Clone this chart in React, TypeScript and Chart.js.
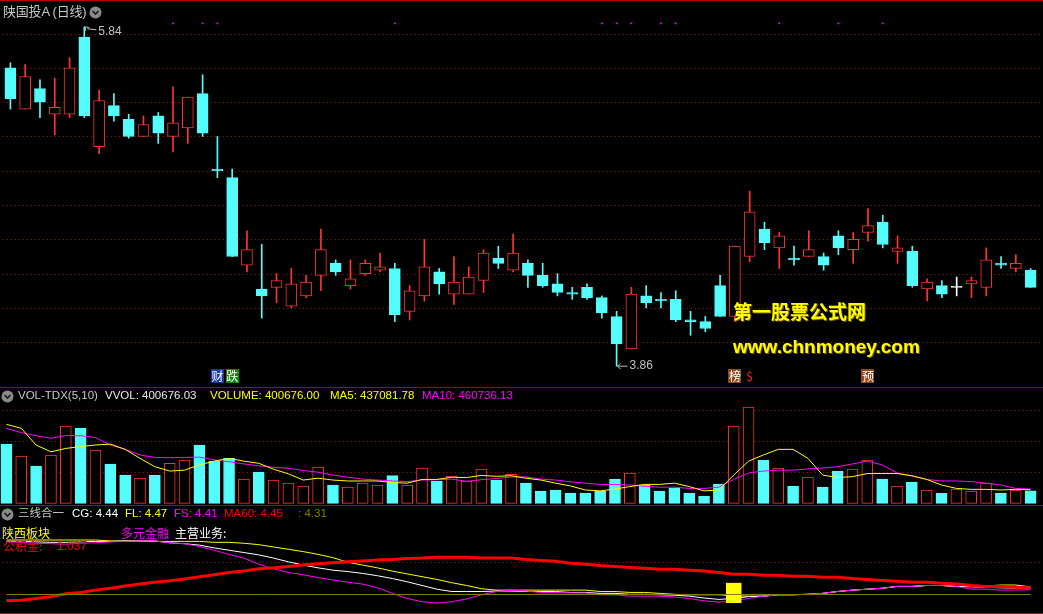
import React, { useEffect, useRef } from "react";
import { Chart, registerables } from "chart.js";

Chart.register(...registerables);

// ---------------- data ----------------
const open = [5.60,5.36,5.48,5.33,5.33,5.78,5.14,5.38,5.30,5.20, 5.32,5.20,5.25,5.45,5.01,4.96,4.45,4.31,4.32,4.21, 4.27,4.39,4.46,4.33,4.40,4.42,4.43,4.18,4.27,4.41, 4.28,4.28,4.36,4.49,4.42,4.46,4.39,4.34,4.29,4.32, 4.26,4.15,3.96,4.27,4.25,4.25,4.13,4.12,4.33,4.15, 4.50,4.66,4.55,4.49,4.50,4.50,4.62,4.54,4.64,4.70, 4.53,4.53,4.31,4.33,4.32,4.34,4.32,4.46,4.43,4.42];
const high = [5.63,5.62,5.53,5.54,5.66,5.84,5.47,5.45,5.33,5.32, 5.34,5.49,5.43,5.56,5.20,5.01,4.65,4.57,4.40,4.43, 4.39,4.66,4.48,4.48,4.48,4.52,4.46,4.33,4.60,4.43, 4.50,4.44,4.54,4.56,4.63,4.48,4.46,4.40,4.32,4.34, 4.27,4.18,4.32,4.33,4.29,4.30,4.18,4.15,4.39,4.56, 4.88,4.70,4.64,4.56,4.65,4.52,4.65,4.64,4.78,4.74, 4.62,4.56,4.37,4.36,4.38,4.38,4.55,4.50,4.51,4.43];
const low = [5.36,5.36,5.31,5.21,5.31,5.31,5.10,5.29,5.19,5.20, 5.16,5.11,5.16,5.20,4.96,4.50,4.41,4.14,4.23,4.20, 4.26,4.30,4.39,4.31,4.39,4.41,4.12,4.13,4.24,4.28, 4.22,4.28,4.29,4.43,4.41,4.32,4.32,4.27,4.25,4.25, 4.14,3.86,3.96,4.20,4.20,4.12,4.04,4.06,4.15,4.12, 4.47,4.54,4.43,4.45,4.50,4.42,4.51,4.46,4.59,4.55, 4.46,4.32,4.24,4.26,4.27,4.26,4.27,4.43,4.41,4.32];
const close = [5.42,5.55,5.40,5.37,5.60,5.32,5.41,5.32,5.20,5.27, 5.22,5.28,5.43,5.22,5.00,4.50,4.54,4.27,4.36,4.34, 4.35,4.54,4.41,4.37,4.46,4.44,4.16,4.30,4.44,4.34, 4.35,4.38,4.52,4.46,4.52,4.39,4.33,4.29,4.28,4.26, 4.17,3.99,4.28,4.23,4.24,4.13,4.12,4.08,4.15,4.56, 4.76,4.58,4.62,4.48,4.54,4.45,4.55,4.60,4.68,4.57, 4.55,4.33,4.35,4.28,4.32,4.36,4.48,4.45,4.46,4.32];

const volume = [1913000,1526000,1203000,1558000,2494000,2429000,1719000,1268000,913000,816000, 913000,1290000,1397000,1881000,1365000,1450000,784000,1010000,752000,655000, 558000,1171000,590000,526000,655000,590000,891000,590000,1139000,719000, 881000,719000,1106000,752000,935000,655000,397000,429000,332000,332000, 397000,784000,977000,590000,397000,494000,332000,235000,623000,2494000, 3106000,1397000,1139000,558000,849000,526000,1042000,1106000,1397000,784000, 558000,687000,429000,332000,461000,397000,655000,332000,429000,400676];
const volMa5 = [2548000,2420000,1880000,1660000,1770000,1830000,1880000,1910000,1740000,1450000, 1180000,1040000,1070000,1240000,1360000,1450000,1360000,1290000,1100000,950000, 750000,810000,750000,720000,720000,720000,670000,650000,770000,770000, 840000,830000,900000,870000,890000,810000,750000,650000,560000,430000, 400000,460000,540000,610000,610000,650000,540000,400000,430000,910000, 1360000,1560000,1740000,1740000,1450000,910000,830000,860000,960000,960000, 960000,890000,770000,590000,480000,450000,450000,430000,450000,437082];
const volMa10 = [2419000,2280000,2180000,2100000,2190000,2180000,2120000,1880000,1740000,1560000, 1480000,1470000,1480000,1490000,1400000,1340000,1270000,1210000,1160000,1130000, 1060000,1000000,910000,840000,780000,750000,720000,700000,750000,760000, 780000,710000,760000,800000,850000,850000,780000,750000,690000,650000, 610000,610000,590000,550000,520000,520000,480000,480000,520000,770000, 980000,1040000,1070000,1070000,1110000,1140000,1180000,1270000,1360000,1240000, 980000,880000,770000,720000,720000,700000,650000,590000,480000,460736];

const lineFL = [5.48,5.48,5.48,5.48,5.48,5.48,5.48,5.46,5.46,5.46, 5.45,5.45,5.45,5.45,5.43,5.43,5.41,5.38,5.33,5.28, 5.23,5.17,5.10,5.00,4.94,4.88,4.81,4.75,4.69,4.63, 4.56,4.50,4.43,4.40,4.40,4.40,4.40,4.40,4.40,4.40, 4.37,4.37,4.35,4.35,4.33,4.31,4.30,4.30,4.30,4.28, 4.27,4.27,4.30,4.30,4.31,4.33,4.37,4.40,4.42,4.44, 4.48,4.48,4.50,4.50,4.48,4.48,4.49,4.51,4.51,4.47];
const lineCG = [5.45,5.45,5.44,5.43,5.43,5.44,5.45,5.45,5.46,5.46, 5.46,5.42,5.40,5.37,5.31,5.26,5.21,5.16,5.09,5.01, 4.94,4.88,4.83,4.80,4.76,4.71,4.65,4.58,4.50,4.42, 4.37,4.37,4.37,4.38,4.38,4.37,4.37,4.37,4.35,4.35, 4.33,4.33,4.31,4.31,4.30,4.29,4.27,4.23,4.20,4.22, 4.26,4.27,4.30,4.30,4.31,4.33,4.37,4.40,4.42,4.44, 4.48,4.48,4.50,4.50,4.48,4.47,4.46,4.45,4.44,4.44];
const lineFS = [5.44,5.43,5.41,5.40,5.39,5.41,5.42,5.44,5.45,5.46, 5.46,5.42,5.40,5.34,5.26,5.17,5.09,4.96,4.86,4.78, 4.73,4.67,4.62,4.57,4.53,4.45,4.33,4.22,4.15,4.12, 4.15,4.21,4.30,4.37,4.40,4.38,4.35,4.35,4.34,4.34, 4.30,4.30,4.27,4.27,4.27,4.25,4.22,4.17,4.14,4.17, 4.22,4.27,4.30,4.30,4.31,4.33,4.37,4.40,4.42,4.44, 4.48,4.48,4.50,4.50,4.48,4.42,4.42,4.40,4.40,4.41];
const lineMA60 = [4.17,4.18,4.22,4.26,4.32,4.35,4.40,4.44,4.49,4.53, 4.57,4.60,4.64,4.69,4.73,4.78,4.81,4.86,4.88,4.91, 4.94,4.97,4.99,5.01,5.03,5.05,5.06,5.08,5.09,5.11, 5.11,5.11,5.09,5.09,5.09,5.06,5.04,5.02,4.98,4.96, 4.93,4.91,4.89,4.87,4.85,4.85,4.83,4.81,4.78,4.74, 4.74,4.72,4.72,4.70,4.70,4.68,4.68,4.65,4.63,4.61, 4.59,4.57,4.57,4.55,4.53,4.50,4.48,4.48,4.46,4.45];

const supportLevel = 4.31;
const signalBarIndex = 49;
const signalBarRange = [4.13, 4.55];

const days = open.map((_, i) => `第${i + 1}日`);

const priceGrid = [5.8, 5.6, 5.4, 5.2, 5.0, 4.8, 4.6, 4.4, 4.2, 4.0];
const volGrid = [1000000, 2000000, 3000000];
const indGrid = [5.0];

const dotSignalIdx = [11, 13, 14, 26, 40, 41, 42, 44, 45, 52, 56, 59];
const dotLevel = 5.86;

const markers = [
  { index: 14, text: "财", bg: "#1c3a9c", color: "#ffffff" },
  { index: 15, text: "跌", bg: "#0a8a0a", color: "#ffffff" },
  { index: 49, text: "榜", bg: "#8b4a1c", color: "#ffffff" },
  { index: 50, text: "$", bg: "", color: "#ff2020" },
  { index: 58, text: "预", bg: "#8b4a1c", color: "#ffffff" },
];

// scale ranges
const PRICE_MIN = 3.756, PRICE_MAX = 5.973;
const VOL_MIN = -54800, VOL_MAX = 3719400;
const IND_MIN = 3.8854, IND_MAX = 6.2346;

// ---------------- style ----------------
const RED = "#ff3434";
const CYAN = "#54fcfc";
const WHITE = "#ffffff";
const GRID = "#a00000";
const FRAME = "#b40000";
const LATIN = '"Liberation Sans", Arial, "Noto Sans CJK SC", sans-serif';
const CJK = '"Noto Sans CJK SC", sans-serif';

const candleColor = close.map((c, i) => (c > open[i] ? RED : c < open[i] ? CYAN : WHITE));
const bodyFill = close.map((c, i) => (c > open[i] ? "#000000" : c < open[i] ? CYAN : WHITE));
const volUp = close.map((c, i) => c >= open[i]);

const dottedGrid = (values: number[]) => ({
  id: "dottedGrid",
  beforeDatasetsDraw(chart: any) {
    const { ctx } = chart;
    const y = chart.scales.y;
    ctx.save();
    ctx.strokeStyle = GRID;
    ctx.lineWidth = 1;
    ctx.setLineDash([1, 3]);
    values.forEach((v) => {
      const py = Math.round(y.getPixelForValue(v)) + 0.5;
      ctx.beginPath();
      ctx.moveTo(0, py);
      ctx.lineTo(chart.width, py);
      ctx.stroke();
    });
    ctx.restore();
  },
});

const frameLines = (ys: number[]) => ({
  id: "frameLines",
  afterDraw(chart: any) {
    const { ctx } = chart;
    ctx.save();
    ctx.strokeStyle = FRAME;
    ctx.lineWidth = 1;
    ys.forEach((yy) => {
      ctx.beginPath();
      ctx.moveTo(0, yy);
      ctx.lineTo(chart.width, yy);
      ctx.stroke();
    });
    ctx.restore();
  },
});

const priceLabels = {
  id: "priceLabels",
  afterDatasetsDraw(chart: any) {
    const { ctx } = chart;
    const x = chart.scales.x, y = chart.scales.y;
    const hi = Math.max(...high), hiIdx = high.indexOf(hi);
    const lo = Math.min(...low), loIdx = low.indexOf(lo);
    ctx.save();
    ctx.strokeStyle = "#c0c0c0";
    ctx.fillStyle = "#c0c0c0";
    ctx.lineWidth = 1;
    ctx.font = `12px ${LATIN}`;
    ctx.textBaseline = "middle";
    let px = x.getPixelForValue(hiIdx), py = y.getPixelForValue(hi);
    ctx.beginPath();
    ctx.moveTo(px + 1, py);
    ctx.lineTo(px + 1, py + 4);
    ctx.moveTo(px + 1, py);
    ctx.lineTo(px + 5, py + 1);
    ctx.moveTo(px + 3, py + 2);
    ctx.lineTo(px + 12, py + 3);
    ctx.stroke();
    ctx.fillText(hi.toFixed(2), px + 14, py + 5);
    px = x.getPixelForValue(loIdx);
    py = y.getPixelForValue(lo);
    ctx.beginPath();
    ctx.moveTo(px + 1, py);
    ctx.lineTo(px + 11, py);
    ctx.moveTo(px + 1, py);
    ctx.lineTo(px + 4, py - 3);
    ctx.moveTo(px + 1, py);
    ctx.lineTo(px + 4, py + 3);
    ctx.stroke();
    ctx.fillText(lo.toFixed(2), px + 13, py);
    // event markers
    const bottom = chart.chartArea.bottom;
    ctx.font = `12px ${CJK}`;
    ctx.textAlign = "center";
    markers.forEach((m) => {
      const cx = x.getPixelForValue(m.index);
      if (m.bg) {
        ctx.fillStyle = m.bg;
        ctx.fillRect(Math.round(cx - 6.5), bottom - 15, 13, 14);
      }
      ctx.fillStyle = m.color;
      ctx.fillText(m.text, cx, bottom - 7.5);
    });
    ctx.restore();
  },
};

const indicatorExtras = {
  id: "indicatorExtras",
  afterDatasetsDraw(chart: any) {
    const { ctx } = chart;
    const x = chart.scales.x, y = chart.scales.y;
    const py = Math.round(y.getPixelForValue(supportLevel)) + 0.5;
    ctx.save();
    ctx.strokeStyle = "#808000";
    ctx.lineWidth = 1;
    ctx.beginPath();
    ctx.moveTo(x.getPixelForValue(0), py);
    ctx.lineTo(x.getPixelForValue(days.length - 1), py);
    ctx.stroke();
    ctx.restore();
  },
};

const baseOptions = (min: number, max: number) => ({
  animation: false as const,
  responsive: false,
  maintainAspectRatio: false,
  events: [] as any[],
  layout: { padding: { left: 0, right: 5, top: 0, bottom: 0 } },
  plugins: { legend: { display: false }, tooltip: { enabled: false }, title: { display: false } },
  scales: {
    x: { display: false, offset: true, grid: { display: false } },
    y: { display: false, min, max, grid: { display: false } },
  },
});

function Icon({ left, top }: { left: number; top: number }) {
  return (
    <svg width={13} height={13} style={{ position: "absolute", left, top }}>
      <circle cx={6.5} cy={6.5} r={6} fill="#8a8a8a" />
      <polyline points="3.5,5 6.5,8 9.5,5" fill="none" stroke="#1a1a1a" strokeWidth={1.6} />
    </svg>
  );
}

const txt = (left: number, top: number, color: string, size = 11.5, family = LATIN): React.CSSProperties => ({
  position: "absolute",
  left,
  top,
  color,
  fontSize: size,
  lineHeight: `${size + 2}px`,
  fontFamily: family,
  whiteSpace: "nowrap",
});

export default function App() {
  const priceRef = useRef<HTMLCanvasElement>(null);
  const volRef = useRef<HTMLCanvasElement>(null);
  const indRef = useRef<HTMLCanvasElement>(null);

  useEffect(() => {
    const charts: Chart[] = [];

    charts.push(
      new Chart(priceRef.current as HTMLCanvasElement, {
        type: "bar",
        data: {
          labels: days,
          datasets: [
            {
              type: "bar",
              data: low.map((l, i) => [l, high[i]]) as any,
              backgroundColor: candleColor,
              borderWidth: 0,
              barThickness: 1,
              grouped: false,
              order: 3,
            } as any,
            {
              type: "bar",
              data: open.map((o, i) => [o, close[i]]) as any,
              backgroundColor: bodyFill,
              borderColor: candleColor,
              borderWidth: 1,
              borderSkipped: false,
              barThickness: 11,
              minBarLength: 1,
              grouped: false,
              order: 2,
            } as any,
            {
              type: "line",
              data: days.map((_, i) => (dotSignalIdx.includes(i) ? dotLevel : null)),
              showLine: false,
              pointStyle: "rect",
              pointRadius: 1.2,
              pointBorderWidth: 0,
              pointBackgroundColor: "#ff00ff",
              order: 1,
            } as any,
          ],
        },
        options: baseOptions(PRICE_MIN, PRICE_MAX) as any,
        plugins: [dottedGrid(priceGrid), priceLabels, frameLines([0.5, 387.5])],
      })
    );

    charts.push(
      new Chart(volRef.current as HTMLCanvasElement, {
        type: "bar",
        data: {
          labels: days,
          datasets: [
            {
              type: "bar",
              data: volume,
              backgroundColor: volUp.map((u) => (u ? "#000000" : CYAN)),
              borderColor: volUp.map((u) => (u ? RED : CYAN)),
              borderWidth: 1,
              borderSkipped: false,
              barThickness: 11,
              grouped: false,
              order: 3,
            } as any,
            {
              type: "line",
              data: volMa10,
              borderColor: "#ff00ff",
              borderWidth: 1,
              pointRadius: 0,
              tension: 0,
              order: 2,
            } as any,
            {
              type: "line",
              data: volMa5,
              borderColor: "#ffff00",
              borderWidth: 1,
              pointRadius: 0,
              tension: 0,
              order: 1,
            } as any,
          ],
        },
        options: baseOptions(VOL_MIN, VOL_MAX) as any,
        plugins: [dottedGrid(volGrid)],
      })
    );

    charts.push(
      new Chart(indRef.current as HTMLCanvasElement, {
        type: "line",
        data: {
          labels: days,
          datasets: [
            { type: "line", data: lineFL, borderColor: "#ffff00", borderWidth: 1, pointRadius: 0, tension: 0, order: 6 } as any,
            { type: "line", data: lineCG, borderColor: "#ffffff", borderWidth: 1, pointRadius: 0, tension: 0, order: 5 } as any,
            { type: "line", data: lineFS, borderColor: "#ff00ff", borderWidth: 1, pointRadius: 0, tension: 0, order: 4 } as any,
            { type: "line", data: lineMA60, borderColor: "#ff0000", borderWidth: 3, pointRadius: 0, tension: 0, order: 3 } as any,
            {
              type: "bar",
              data: days.map((_, i) => (i === signalBarIndex ? signalBarRange : null)),
              backgroundColor: "#ffff00",
              borderWidth: 0,
              barPercentage: 1,
              categoryPercentage: 1,
              grouped: false,
              order: 2,
            } as any,
          ],
        },
        options: baseOptions(IND_MIN, IND_MAX) as any,
        plugins: [dottedGrid(indGrid), indicatorExtras, frameLines([0.5, 108.5])],
      })
    );

    return () => charts.forEach((c) => c.destroy());
  }, []);

  return (
    <div style={{ position: "fixed", left: 0, top: 0, width: 1043, height: 614, background: "#000", overflow: "hidden" }}>
      <canvas ref={priceRef} width={1044} height={388} style={{ position: "absolute", left: -1, top: 0 }} />
      <canvas ref={volRef} width={1044} height={117} style={{ position: "absolute", left: -1, top: 388 }} />
      <canvas ref={indRef} width={1044} height={109} style={{ position: "absolute", left: -1, top: 505 }} />

      {/* price panel header */}
      <span style={{ ...txt(3, 4, "#c8c8c8", 13), letterSpacing: -0.2 }}>陕国投A (日线)</span>
      <Icon left={89} top={6} />

      {/* volume header */}
      <Icon left={1} top={390} />
      <span style={txt(18, 389, "#c8c8c8")}>VOL-TDX(5,10)</span>
      <span style={txt(105, 389, "#e8e8e8")}>VVOL: 400676.03</span>
      <span style={txt(210, 389, "#ffff00")}>VOLUME: 400676.00</span>
      <span style={txt(330, 389, "#ffff00")}>MA5: 437081.78</span>
      <span style={txt(422, 389, "#ff00ff")}>MA10: 460736.13</span>

      {/* indicator header */}
      <Icon left={1} top={508} />
      <span style={txt(18, 507, "#c8c8c8")}>三线合一</span>
      <span style={txt(72, 507, "#ffffff")}>CG: 4.44</span>
      <span style={txt(125, 507, "#ffff00")}>FL: 4.47</span>
      <span style={txt(174, 507, "#ff00ff")}>FS: 4.41</span>
      <span style={txt(224, 507, "#ff0000")}>MA60: 4.45</span>
      <span style={txt(298, 507, "#808000")}>: 4.31</span>

      {/* indicator notes */}
      <span style={txt(3, 539, "#ff0000", 12, CJK)}>公积金:</span>
      <span style={txt(57, 539, "#ff0000", 12)}>1.037</span>
      <span style={txt(2, 526, "#ffff00", 12, CJK)}>陕西板块</span>
      <span style={txt(121, 526, "#ff00ff", 12, CJK)}>多元金融</span>
      <span style={txt(175, 526, "#ffffff", 12, CJK)}>主营业务:</span>

      {/* watermark */}
      <span
        style={{
          ...txt(733, 300, "#ffff00", 19, CJK),
          fontWeight: 700,
          textShadow: "1px 1px 0 #7a5a00",
        }}
      >
        第一股票公式网
      </span>
      <span
        style={{
          ...txt(733, 336, "#ffff00", 19, LATIN),
          fontWeight: 700,
          textShadow: "1px 1px 0 #7a5a00",
        }}
      >
        www.chnmoney.com
      </span>
    </div>
  );
}
